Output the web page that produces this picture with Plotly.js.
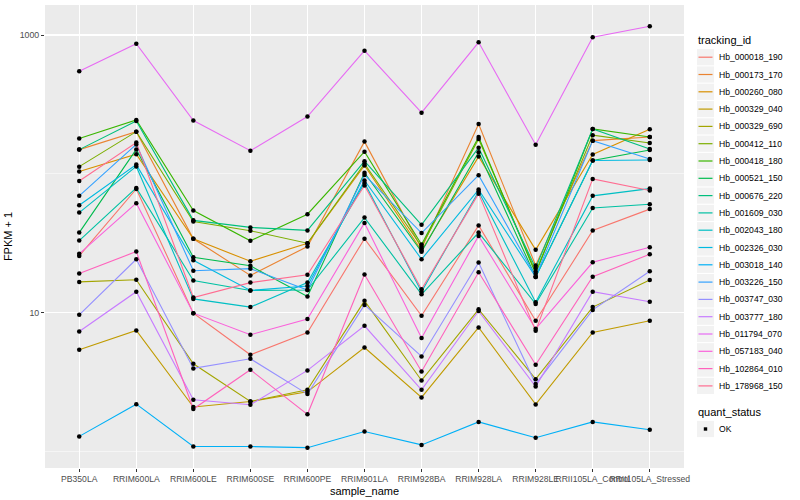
<!DOCTYPE html>
<html>
<head>
<meta charset="utf-8">
<script src="https://cdn.plot.ly/plotly-3.0.1.min.js"></script>
<style>html,body{margin:0;padding:0;background:#fff}#chart{width:800px;height:500px}</style>
</head>
<body>
<div id="chart"></div>
<script>
// Categories (x axis)
const samples = ["PB350LA","RRIM600LA","RRIM600LE","RRIM600SE","RRIM600PE","RRIM901LA",
                 "RRIM928BA","RRIM928LA","RRIM928LE","RRII105LA_Control","RRII105LA_Stressed"];

// FPKM + 1 per tracking_id, in sample order
const Hb_000018_190 = [25.7, 78.0, 9.95, 4.99, 7.22, 34.2, 9.51, 42.6, 8.76, 39.1, 55.8];
const Hb_000173_170 = [149.6, 201.5, 34.1, 18.6, 30.0, 170.8, 29.1, 228.9, 21.9, 173.6, 184.6];
const Hb_000260_080 = [104.2, 138.6, 34.1, 23.5, 31.7, 115.1, 28.1, 133.2, 28.4, 138.1, 210.1];
const Hb_000329_040 = [5.42, 7.46, 2.10, 2.30, 2.70, 5.63, 2.46, 7.84, 2.19, 7.22, 8.76];
const Hb_000329_690 = [16.7, 17.3, 4.30, 2.30, 2.79, 12.2, 3.26, 10.6, 3.33, 11.0, 17.2];
const Hb_000412_110 = [112.8, 201.5, 45.5, 39.0, 31.7, 118.6, 30.0, 178.6, 19.8, 190.1, 167.1];
const Hb_000418_180 = [180.1, 244.6, 54.5, 33.0, 51.3, 144.7, 31.0, 184.6, 19.1, 210.7, 184.6];
const Hb_000521_150 = [37.8, 150.1, 25.1, 21.8, 13.1, 102.0, 27.5, 143.3, 18.1, 125.0, 148.8];
const Hb_000676_220 = [149.6, 240.6, 46.3, 41.2, 39.2, 123.6, 43.0, 154.6, 21.0, 210.7, 151.3];
const Hb_001609_030 = [33.1, 79.3, 17.1, 14.5, 14.6, 48.5, 13.6, 37.8, 11.6, 56.8, 60.5];
const Hb_002043_180 = [52.7, 113.2, 12.6, 11.0, 16.5, 86.2, 14.2, 74.8, 11.9, 69.5, 78.4];
const Hb_002326_030 = [59.5, 116.7, 23.9, 14.5, 15.6, 89.8, 24.3, 77.1, 18.1, 125.0, 126.1];
const Hb_003018_140 = [1.29, 2.20, 1.09, 1.09, 1.07, 1.40, 1.12, 1.64, 1.26, 1.64, 1.44];
const Hb_003226_150 = [69.5, 163.0, 20.1, 20.8, 14.6, 98.4, 37.5, 98.0, 18.3, 173.6, 128.2];
const Hb_003747_030 = [9.67, 24.3, 3.98, 4.67, 2.60, 11.4, 4.85, 23.0, 3.07, 10.5, 19.95];
const Hb_003777_180 = [7.34, 14.2, 2.37, 2.18, 3.85, 8.06, 2.79, 10.3, 2.95, 14.2, 12.0];
const Hb_011794_070 = [548, 866, 242, 147, 259, 771, 276, 886, 162, 963, 1155];
const Hb_057183_040 = [26.6, 61.6, 9.95, 6.95, 9.01, 44.4, 6.58, 35.8, 7.67, 23.1, 29.7];
const Hb_102864_010 = [19.2, 27.6, 2.03, 3.89, 1.86, 18.9, 3.78, 19.6, 4.23, 18.2, 26.4];
const Hb_178968_150 = [89.0, 168.0, 12.9, 16.5, 18.8, 82.5, 14.8, 72.1, 7.42, 92.1, 75.9];

const trackingIds = ["Hb_000018_190","Hb_000173_170","Hb_000260_080","Hb_000329_040","Hb_000329_690",
  "Hb_000412_110","Hb_000418_180","Hb_000521_150","Hb_000676_220","Hb_001609_030","Hb_002043_180",
  "Hb_002326_030","Hb_003018_140","Hb_003226_150","Hb_003747_030","Hb_003777_180","Hb_011794_070",
  "Hb_057183_040","Hb_102864_010","Hb_178968_150"];
const seriesValues = [Hb_000018_190,Hb_000173_170,Hb_000260_080,Hb_000329_040,Hb_000329_690,
  Hb_000412_110,Hb_000418_180,Hb_000521_150,Hb_000676_220,Hb_001609_030,Hb_002043_180,
  Hb_002326_030,Hb_003018_140,Hb_003226_150,Hb_003747_030,Hb_003777_180,Hb_011794_070,
  Hb_057183_040,Hb_102864_010,Hb_178968_150];
const hueColors = ["#F8766D","#EA8331","#D89000","#C09B00","#A3A500","#7CAE00","#39B600","#00BB4E",
  "#00BF7D","#00C1A3","#00BFC4","#00BAE0","#00B0F6","#35A2FF","#9590FF","#C77CFF","#E76BF3",
  "#FA62DB","#FF62BC","#FF6C91"];
const statusLabels = ["OK"];
const yTickVals = [10, 1000];
const yTickText = ["10", "1000"];

const font = "Liberation Sans, Arial, sans-serif";
const W = 800, H = 500, ML = 45, MR = 116, MT = 5, MB = 32;
const pw = W - ML - MR, ph = H - MT - MB;
const xp = p => (p - ML) / pw;          // pixel -> paper x
const yp = p => (H - MB - p) / ph;      // pixel -> paper y

const traces = [];
trackingIds.forEach((id, i) => {
  traces.push({
    type: "scatter", mode: "lines", x: samples, y: seriesValues[i], name: id,
    line: {color: hueColors[i], width: 1.1}, showlegend: false, hoverinfo: "name+y"
  });
});
const px = [], py = [];
seriesValues.forEach(vals => vals.forEach((v, j) => { px.push(samples[j]); py.push(v); }));
traces.push({
  type: "scatter", mode: "markers", x: px, y: py, name: statusLabels[0], showlegend: false,
  marker: {color: "#000", size: 4.5, symbol: "circle"}
});

// Manual ggplot-style legend
const shapes = [], annotations = [];
const keyL = 697, keyR = 714, rowH = 17.3, firstRow = 57.2;
annotations.push({xref: "paper", yref: "paper", x: xp(696), y: yp(40), xanchor: "left", yanchor: "middle",
  text: "tracking_id", showarrow: false, font: {size: 11, color: "#000", family: font}});
trackingIds.forEach((id, i) => {
  const cy = firstRow + i * rowH;
  shapes.push({type: "rect", xref: "paper", yref: "paper", x0: xp(keyL), x1: xp(keyR),
    y0: yp(cy - 8.1), y1: yp(cy + 8.1), fillcolor: "#F2F2F2", line: {width: 0}});
  shapes.push({type: "line", xref: "paper", yref: "paper", x0: xp(keyL + 1.5), x1: xp(keyR - 1.5),
    y0: yp(cy), y1: yp(cy), line: {color: hueColors[i], width: 1.2}});
  annotations.push({xref: "paper", yref: "paper", x: xp(716.5), y: yp(cy), xanchor: "left", yanchor: "middle",
    text: id, showarrow: false, font: {size: 8.6, color: "#000", family: font}});
});
annotations.push({xref: "paper", yref: "paper", x: xp(696), y: yp(412), xanchor: "left", yanchor: "middle",
  text: "quant_status", showarrow: false, font: {size: 11, color: "#000", family: font}});
shapes.push({type: "rect", xref: "paper", yref: "paper", x0: xp(keyL), x1: xp(keyR),
  y0: yp(429 - 8.1), y1: yp(429 + 8.1), fillcolor: "#F2F2F2", line: {width: 0}});
shapes.push({type: "rect", xref: "paper", yref: "paper", x0: xp(703.8), x1: xp(707.2),
  y0: yp(427.3), y1: yp(430.7), fillcolor: "#000", line: {width: 0}});
annotations.push({xref: "paper", yref: "paper", x: xp(716.5), y: yp(429), xanchor: "left", yanchor: "middle",
  text: statusLabels[0], showarrow: false, font: {size: 8.6, color: "#000", family: font}});

const layout = {
  width: W, height: H,
  margin: {l: ML, r: MR, t: MT, b: MB},
  paper_bgcolor: "#fff", plot_bgcolor: "#EBEBEB",
  font: {family: font, color: "#000"},
  showlegend: false,
  shapes: shapes, annotations: annotations,
  xaxis: {
    type: "category", range: [-0.6, 10.6], tickangle: 0,
    showgrid: true, gridcolor: "#fff", gridwidth: 1.1,
    ticks: "outside", ticklen: 3, tickcolor: "#333", tickwidth: 1,
    tickfont: {size: 8.6, color: "#4D4D4D"}, zeroline: false, showline: false,
    title: {text: "sample_name", font: {size: 11, color: "#000"}, standoff: 3}
  },
  yaxis: {
    type: "log", range: [-0.117, 3.216],
    tickmode: "array", tickvals: yTickVals, ticktext: yTickText,
    showgrid: true, gridcolor: "#fff", gridwidth: 1.1,
    minor: {tickmode: "array", tickvals: [1, 100], showgrid: true, gridcolor: "#fff", gridwidth: 0.5, ticks: ""},
    ticks: "outside", ticklen: 3, tickcolor: "#333", tickwidth: 1,
    tickfont: {size: 8.8, color: "#4D4D4D"}, zeroline: false, showline: false,
    title: {text: "FPKM + 1", font: {size: 11, color: "#000"}, standoff: 4}
  }
};
Plotly.newPlot("chart", traces, layout, {displayModeBar: false, staticPlot: true});
</script>
</body>
</html>
